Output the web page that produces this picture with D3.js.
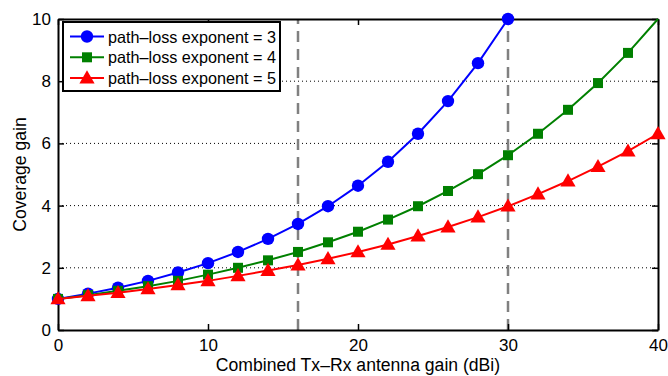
<!DOCTYPE html>
<html>
<head>
<meta charset="utf-8">
<script src="https://cdn.jsdelivr.net/npm/d3@7"></script>
<style>
  html, body { margin: 0; padding: 0; background: #fff; }
  svg { display: block; font-family: "Liberation Sans", Arial, Helvetica, sans-serif; }
</style>
</head>
<body>
<svg id="chart" width="668" height="376"></svg>
<script>
// Antenna gain (dBi) sample points
const gainN3 = [0, 2, 4, 6, 8, 10, 12, 14, 16, 18, 20, 22, 24, 26, 28, 30];
const gainN45 = [0, 2, 4, 6, 8, 10, 12, 14, 16, 18, 20, 22, 24, 26, 28, 30, 32, 34, 36, 38, 40];

// Coverage gain for each path-loss exponent
const coverageN3 = [1.00, 1.17, 1.36, 1.58, 1.85, 2.15, 2.51, 2.93, 3.41, 3.98, 4.64, 5.41, 6.31, 7.36, 8.58, 10.00];
const coverageN4 = [1.00, 1.12, 1.26, 1.41, 1.58, 1.78, 2.00, 2.24, 2.51, 2.82, 3.16, 3.55, 3.98, 4.47, 5.01, 5.62, 6.31, 7.08, 7.94, 8.91, 10.00];
const coverageN5 = [1.00, 1.10, 1.20, 1.32, 1.45, 1.58, 1.74, 1.91, 2.09, 2.29, 2.51, 2.75, 3.02, 3.31, 3.63, 3.98, 4.37, 4.79, 5.25, 5.75, 6.31];

const seriesNames = ["path\u2013loss exponent = 3", "path\u2013loss exponent = 4", "path\u2013loss exponent = 5"];
const xTicks = [0, 10, 20, 30, 40];
const yTicks = [0, 2, 4, 6, 8, 10];
const refGains = [16, 30];

const series = [
  { name: seriesNames[0], x: gainN3, y: coverageN3, color: "#0000ff", marker: "circle", markLast: true },
  { name: seriesNames[1], x: gainN45, y: coverageN4, color: "#008000", marker: "square", markLast: false },
  { name: seriesNames[2], x: gainN45, y: coverageN5, color: "#ff0000", marker: "triangle", markLast: true }
];

const svg = d3.select("#chart");
const m = { left: 58, right: 10, top: 19, bottom: 46 };
const W = 668, H = 376;
const x = d3.scaleLinear().domain([0, 40]).range([m.left, W - m.right]);
const y = d3.scaleLinear().domain([0, 10]).range([H - m.bottom, m.top]);

// dotted horizontal grid
svg.append("g").selectAll("line").data(yTicks.filter(t => t > 0 && t < 10)).join("line")
  .attr("x1", x(0)).attr("x2", x(40))
  .attr("y1", d => y(d)).attr("y2", d => y(d))
  .attr("stroke", "#000").attr("stroke-width", 1).attr("stroke-dasharray", "1,3");

// reference gains
svg.append("g").selectAll("line").data(refGains).join("line")
  .attr("x1", d => x(d)).attr("x2", d => x(d))
  .attr("y1", y(0)).attr("y2", y(10))
  .attr("stroke", "#808080").attr("stroke-width", 2.5).attr("stroke-dasharray", "11,7");

// axes with inward ticks on all four sides
const tickLen = 6;
const xb = svg.append("g").attr("transform", `translate(0,${y(0)})`)
  .call(d3.axisBottom(x).tickValues(xTicks).tickSizeInner(-tickLen).tickSizeOuter(0).tickPadding(9));
const xt = svg.append("g").attr("transform", `translate(0,${y(10)})`)
  .call(d3.axisTop(x).tickValues(xTicks).tickSizeInner(-tickLen).tickSizeOuter(0).tickFormat(""));
const yl = svg.append("g").attr("transform", `translate(${x(0)},0)`)
  .call(d3.axisLeft(y).tickValues(yTicks).tickSizeInner(-tickLen).tickSizeOuter(0).tickPadding(7));
const yr = svg.append("g").attr("transform", `translate(${x(40)},0)`)
  .call(d3.axisRight(y).tickValues(yTicks).tickSizeInner(-tickLen).tickSizeOuter(0).tickFormat(""));
[xb, xt, yl, yr].forEach(g => {
  g.select(".domain").attr("stroke", "#000").attr("stroke-width", 2);
  g.selectAll(".tick line").attr("stroke", "#000").attr("stroke-width", 1.5);
  g.selectAll("text").attr("font-size", 17).attr("fill", "#000")
    .attr("font-family", "'Liberation Sans', Arial, sans-serif");
});

// axis titles
svg.append("text").attr("x", x(20)).attr("y", 371).attr("text-anchor", "middle")
  .attr("font-size", 17.6).text("Combined Tx\u2013Rx antenna gain (dBi)");
svg.append("text").attr("transform", `translate(26,${y(5)}) rotate(-90)`).attr("text-anchor", "middle")
  .attr("font-size", 17.6).text("Coverage gain");

// marker shapes
function drawMarker(sel, type, color, cx, cy) {
  if (type === "circle") {
    sel.append("circle").attr("cx", cx).attr("cy", cy).attr("r", 6.2).attr("fill", color);
  } else if (type === "square") {
    sel.append("rect").attr("x", cx - 5).attr("y", cy - 5).attr("width", 10).attr("height", 10).attr("fill", color);
  } else {
    sel.append("path").attr("d", d3.symbol(d3.symbolTriangle, 100)()).attr("transform", `translate(${cx},${cy + 1})`)
      .attr("fill", color);
  }
}

const line = d3.line().x(d => x(d[0])).y(d => y(d[1]));
series.forEach(s => {
  const pts = s.x.map((v, i) => [v, s.y[i]]);
  const g = svg.append("g");
  g.append("path").datum(pts).attr("d", line).attr("fill", "none")
    .attr("stroke", s.color).attr("stroke-width", 2);
  pts.forEach((p, i) => {
    if (i === pts.length - 1 && !s.markLast) return;
    drawMarker(g, s.marker, s.color, x(p[0]), y(p[1]));
  });
});

// legend
const lg = svg.append("g");
lg.append("rect").attr("x", 63).attr("y", 22).attr("width", 217).attr("height", 69)
  .attr("fill", "#fff").attr("stroke", "#000").attr("stroke-width", 2);
series.forEach((s, i) => {
  const cy = 36.5 + i * 20.8;
  lg.append("line").attr("x1", 70).attr("x2", 104).attr("y1", cy).attr("y2", cy)
    .attr("stroke", s.color).attr("stroke-width", 2);
  drawMarker(lg, s.marker, s.color, 87, cy);
  lg.append("text").attr("x", 108).attr("y", cy + 6).attr("font-size", 16.5)
    .attr("textLength", 168).attr("lengthAdjust", "spacingAndGlyphs").text(s.name);
});
</script>
</body>
</html>
